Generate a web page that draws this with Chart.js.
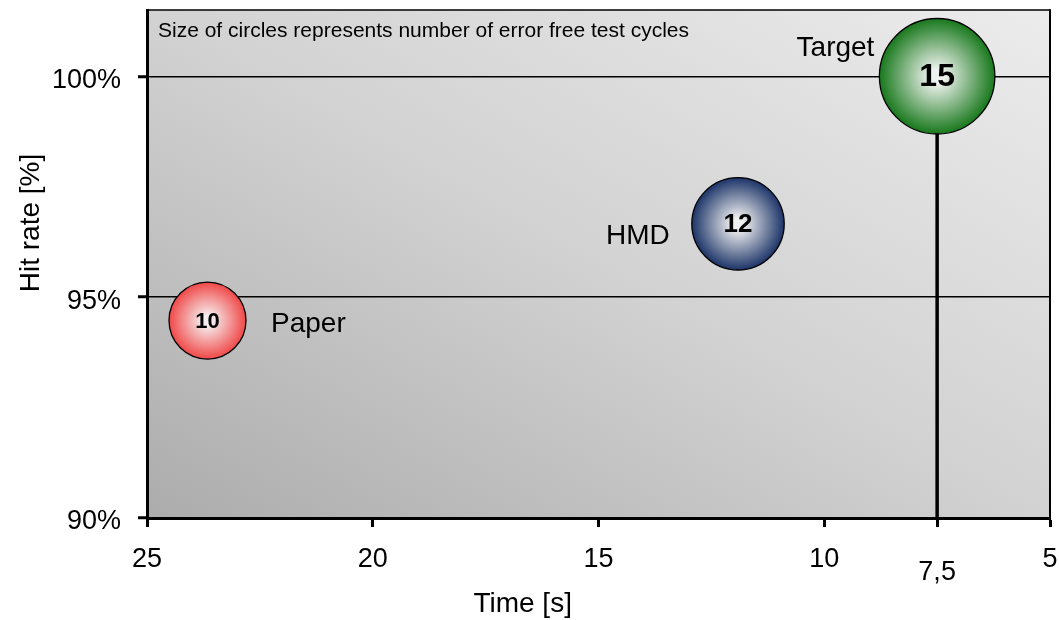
<!DOCTYPE html>
<html>
<head>
<meta charset="utf-8">
<script src="https://cdn.jsdelivr.net/npm/chart.js@4.4.0/dist/chart.umd.min.js"></script>
<style>
html,body{margin:0;padding:0;background:#fff;}
canvas{display:block;}
</style>
</head>
<body>
<canvas id="c" width="1059" height="620"></canvas>
<script>
// ---- data ----
const seriesNames = ['Paper', 'HMD', 'Target'];
const timeValues = [23.66, 11.91, 7.5];
const hitRates = [94.47, 96.66, 100];
const errorFreeCycles = [10, 12, 15];
const xTickValues = [25, 20, 15, 10, 7.5, 5];
const yTickValues = [90, 95, 100];
const targetLineTime = [7.5, 7.5];
const targetLineRate = [90, 100];
const noteText = 'Size of circles represents number of error free test cycles';
const xTitleText = 'Time [s]';
const yTitleText = 'Hit rate [%]';

// ---- styles ----
const FONT = '"Liberation Sans", Arial, Helvetica, sans-serif';
const bubbleColors = ['#f04848', '#1c3468', '#18781c'];
const bubbleCenters = ['#f6eeee', '#f0f0f0', '#eef2ee'];
const radiusPerCycle = 3.85;
const namePlacement = [
  {align: 'left', gap: 25, dy: 4},
  {align: 'right', gap: 22, dy: 12},
  {align: 'right', gap: 5, dy: -28}
];

const fmt = v => String(v).replace('.', ',');
const noScalePadding = s => { s.paddingTop = 0; s.paddingBottom = 0; s.paddingLeft = 0; s.paddingRight = 0; };

const bgPlugin = {
  id: 'bg',
  beforeDraw(chart) {
    const c = chart.ctx, a = chart.chartArea;
    c.save();
    c.fillStyle = '#fff';
    c.fillRect(0, 0, chart.width, chart.height);
    const W = a.right - a.left, H = a.bottom - a.top;
    const k = 2 * W * H / (W * W + H * H);
    const g = c.createLinearGradient(a.left, a.bottom, a.left + H * k, a.bottom - W * k);
    g.addColorStop(0, '#acacac');
    g.addColorStop(0.5, '#d2d2d2');
    g.addColorStop(1, '#ececec');
    c.fillStyle = g;
    c.fillRect(a.left, a.top, W, H);
    c.restore();
  },
  beforeDatasetsDraw(chart) {
    const c = chart.ctx, a = chart.chartArea;
    c.save();
    c.strokeStyle = '#000';
    c.lineWidth = 1.5;
    c.beginPath();
    c.moveTo(a.left, a.top);
    c.lineTo(a.right, a.top);
    c.stroke();
    c.lineWidth = 2;
    c.beginPath();
    c.moveTo(a.right, a.top - 0.75);
    c.lineTo(a.right, a.bottom);
    c.stroke();
    c.restore();
  },
  afterDatasetsDraw(chart) {
    const c = chart.ctx, a = chart.chartArea;
    const meta = chart.getDatasetMeta(0);
    c.save();
    c.fillStyle = '#000';
    meta.data.forEach((el, i) => {
      const r = el.options.radius;
      c.font = 'bold ' + Math.round(r * 0.56) + 'px ' + FONT;
      c.textAlign = 'center';
      c.textBaseline = 'middle';
      c.fillText(String(errorFreeCycles[i]), el.x, el.y + 1);
      const p = namePlacement[i];
      c.font = '28px ' + FONT;
      c.textAlign = p.align;
      const tx = p.align === 'left' ? el.x + r + p.gap : el.x - r - p.gap;
      c.fillText(seriesNames[i], tx, el.y + p.dy);
    });
    // note
    c.font = '21px ' + FONT;
    c.textAlign = 'left';
    c.textBaseline = 'middle';
    c.fillText(noteText, a.left + 11, a.top + 21);
    // axis titles
    c.font = '28px ' + FONT;
    c.textAlign = 'center';
    c.fillText(xTitleText, a.left + (a.right - a.left) * 0.416, 604);
    c.save();
    c.translate(31, 223);
    c.rotate(-Math.PI / 2);
    c.fillText(yTitleText, 0, 0);
    c.restore();
    c.restore();
  }
};

const bubbleData = timeValues.map((t, i) => ({x: t, y: hitRates[i], r: errorFreeCycles[i] * radiusPerCycle}));
const lineData = targetLineTime.map((t, i) => ({x: t, y: targetLineRate[i]}));

new Chart(document.getElementById('c'), {
  type: 'bubble',
  data: {
    datasets: [
      {
        type: 'bubble',
        data: bubbleData,
        order: 0,
        clip: false,
        borderColor: '#000',
        borderWidth: 1.3,
        backgroundColor: (ctx) => {
          const chart = ctx.chart;
          const i = ctx.dataIndex || 0;
          const xs = chart.scales.x, ys = chart.scales.y;
          if (ctx.type !== 'data' || !xs || !ys || !ctx.raw) return bubbleColors[i];
          const cx = xs.getPixelForValue(ctx.raw.x);
          const cy = ys.getPixelForValue(ctx.raw.y);
          const r = ctx.raw.r;
          if (!isFinite(cx) || !isFinite(cy) || !isFinite(r) || r <= 0) return bubbleColors[i];
          const g = chart.ctx.createRadialGradient(cx, cy, 0, cx, cy, r);
          g.addColorStop(0, bubbleCenters[i]);
          g.addColorStop(0.12, bubbleCenters[i]);
          g.addColorStop(1, bubbleColors[i]);
          return g;
        }
      },
      {
        type: 'line',
        data: lineData,
        order: 1,
        borderColor: '#000',
        borderWidth: 3.5,
        pointRadius: 0,
        fill: false
      }
    ]
  },
  options: {
    responsive: false,
    devicePixelRatio: 1,
    animation: false,
    events: [],
    layout: {autoPadding: false, padding: {left: 0, top: 10, right: 9, bottom: 0}},
    plugins: {legend: {display: false}, tooltip: {enabled: false}},
    font: {family: FONT},
    scales: {
      x: {
        type: 'linear',
        reverse: true,
        min: 5,
        max: 25,
        afterBuildTicks: s => { s.ticks = xTickValues.map(v => ({value: v})); },
        afterFit: s => { s.height = 102; noScalePadding(s); },
        ticks: {
          autoSkip: false,
          maxRotation: 0,
          minRotation: 0,
          padding: 16,
          color: '#000',
          font: (ctx) => ({family: FONT, size: 27, lineHeight: (ctx.tick && ctx.tick.value === 7.5) ? '20px' : 1.2}),
          callback: (v) => v === 7.5 ? ['', fmt(v)] : fmt(v)
        },
        grid: {drawOnChartArea: false, drawTicks: true, tickLength: 9, tickWidth: 3, tickColor: '#000', color: '#000'},
        border: {display: true, color: '#000', width: 3}
      },
      y: {
        type: 'linear',
        min: 90,
        max: 101.5,
        afterBuildTicks: s => { s.ticks = yTickValues.map(v => ({value: v})); },
        afterFit: s => { s.width = 147; noScalePadding(s); },
        ticks: {
          padding: 17,
          labelOffset: 4,
          color: '#000',
          font: {family: FONT, size: 27},
          callback: v => v + '%'
        },
        grid: {color: '#000', lineWidth: 1.5, drawTicks: true, tickLength: 9, tickWidth: 3, tickColor: '#000'},
        border: {display: true, color: '#000', width: 3}
      }
    }
  },
  plugins: [bgPlugin]
});
</script>
</body>
</html>
